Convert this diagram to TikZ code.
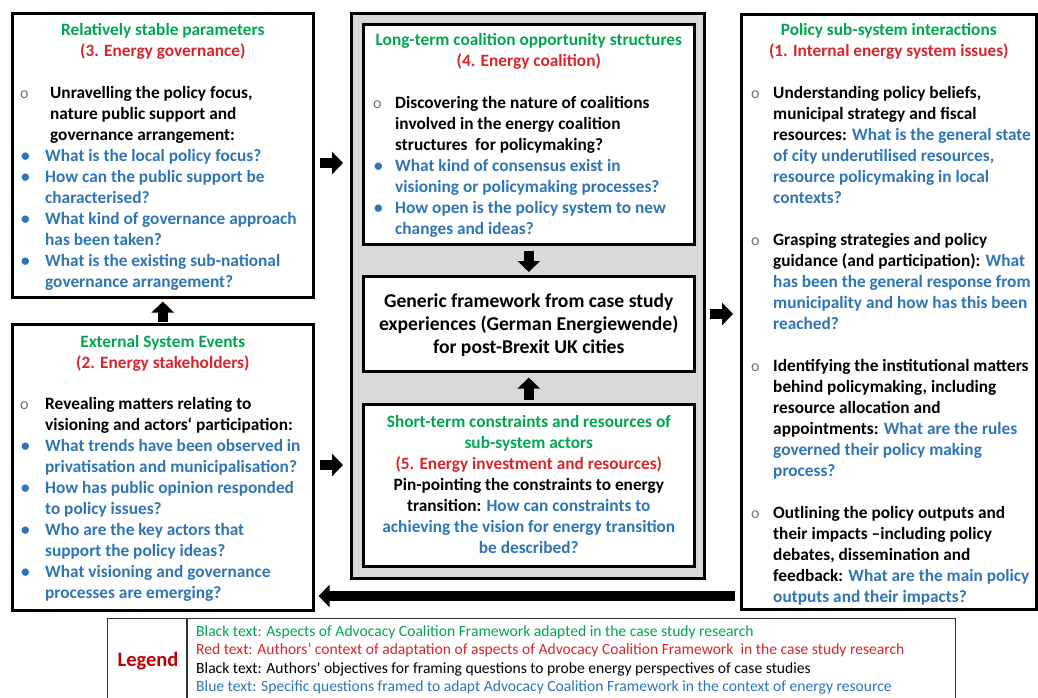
\documentclass[tikz,border=0pt]{standalone}
\usepackage{fontspec}
\setmainfont{Carlito}
\usetikzlibrary{arrows.meta,calc}
\definecolor{acfgreen}{HTML}{00A650}
\definecolor{acfred}{HTML}{D8262B}
\definecolor{acfblue}{HTML}{2E75B6}
\definecolor{legred}{HTML}{C00000}
\definecolor{panelgray}{HTML}{D9D9D9}
\newcommand\obul[1][23pt]{\makebox[#1][l]{\textcolor{black!55}{\fontsize{16}{16}\selectfont\mdseries o}}}
\newcommand\bbul[1][23pt]{\makebox[#1][l]{\hspace{1pt}\textcolor{acfblue}{•}}}
\newcommand\nobul[1][23pt]{\hspace*{#1}}
\newcommand\qblue[1]{\textcolor{acfblue}{#1}}
\begin{document}
\begin{tikzpicture}[x=1pt,y=-1pt,
  box/.style={draw=black, line width=2.6pt, fill=white, inner sep=0, anchor=north west, rectangle},
  panelbox/.style={box, fill=panelgray},
  legbox/.style={draw=black!80, line width=1.2pt, fill=white, inner sep=0, anchor=north west, rectangle},
  txt/.style={inner sep=0, font=\fontsize{17.3}{21}\selectfont\bfseries},
  bigtxt/.style={inner sep=0, font=\fontsize{19.6}{23}\selectfont\bfseries},
  legtxt/.style={inner sep=0, font=\fontsize{15.6}{18.6}\selectfont},
  fat/.style={line width=10.5pt, draw=black, -{Triangle[length=11pt,width=22pt]}}]
\useasboundingbox (0,0) rectangle (1038,697);
% boxes
\node[box, minimum width=301pt, minimum height=284pt] (lt) at (11,12) {};
\node[box, minimum width=301pt, minimum height=286pt] (lb) at (11,323) {};
\node[panelbox, minimum width=353pt, minimum height=565pt] (panel) at (350,12) {};
\node[box, minimum width=331pt, minimum height=220pt] (ct) at (362,23) {};
\node[box, minimum width=331pt, minimum height=95pt] (cm) at (362,275) {};
\node[box, minimum width=331pt, minimum height=162pt] (cb) at (362,403) {};
\node[box, minimum width=295pt, minimum height=595pt] (rb) at (740,13) {};
\node[legbox, minimum width=848pt, minimum height=90pt] (leg) at (107,618) {};
\draw[draw=black!80, line width=1.2pt] ($(leg.north west)+(80,0)$) coordinate (legdivtop) -- ($(leg.south west)+(80,0)$) coordinate (legdivbot);

% left top
\node[txt, anchor=base] (lt-t) at (lt.north |- 0,35) {\begin{tabular}[t]{@{}c@{}}\textcolor{acfgreen}{Relatively stable parameters}\\\textcolor{acfred}{(3. Energy governance)}\end{tabular}};
\node[txt, anchor=base west] (lt-l) at (20,98) {\begin{tabular}[t]{@{}l@{}}
\obul[25pt]\hspace{5pt}Unravelling the policy focus,\\
\nobul[25pt]\hspace{5pt}nature public support and\\
\nobul[25pt]\hspace{5pt}governance arrangement:\\
\bbul[25pt]\qblue{What is the local policy focus?}\\
\bbul[25pt]\qblue{How can the public support be}\\
\nobul[25pt]\qblue{characterised?}\\
\bbul[25pt]\qblue{What kind of governance approach}\\
\nobul[25pt]\qblue{has been taken?}\\
\bbul[25pt]\qblue{What is the existing sub-national}\\
\nobul[25pt]\qblue{governance arrangement?}
\end{tabular}};

% left bottom
\node[txt, anchor=base] (lb-t) at (lb.north |- 0,347) {\begin{tabular}[t]{@{}c@{}}\textcolor{acfgreen}{External System Events}\\\textcolor{acfred}{(2. Energy stakeholders)}\end{tabular}};
\node[txt, anchor=base west] (lb-l) at (20,409) {\begin{tabular}[t]{@{}l@{}}
\obul[25pt]Revealing matters relating to\\
\nobul[25pt]visioning and actors‘ participation:\\
\bbul[25pt]\qblue{What trends have been observed in}\\
\nobul[25pt]\qblue{privatisation and municipalisation?}\\
\bbul[25pt]\qblue{How has public opinion responded}\\
\nobul[25pt]\qblue{to policy issues?}\\
\bbul[25pt]\qblue{Who are the key actors that}\\
\nobul[25pt]\qblue{support the policy ideas?}\\
\bbul[25pt]\qblue{What visioning and governance}\\
\nobul[25pt]\qblue{processes are emerging?}
\end{tabular}};

% centre top
\node[txt, anchor=base] (ct-t) at (ct.north |- 0,45) {\begin{tabular}[t]{@{}c@{}}\textcolor{acfgreen}{Long-term coalition opportunity structures}\\\textcolor{acfred}{(4. Energy coalition)}\end{tabular}};
\node[txt, anchor=base west] (ct-l) at (373,108) {\begin{tabular}[t]{@{}l@{}}
\obul[22pt]Discovering the nature of coalitions\\
\nobul[22pt]involved in the energy coalition\\
\nobul[22pt]structures\ \ for policymaking?\\
\bbul[22pt]\qblue{What kind of consensus exist in}\\
\nobul[22pt]\qblue{visioning or policymaking processes?}\\
\bbul[22pt]\qblue{How open is the policy system to new}\\
\nobul[22pt]\qblue{changes and ideas?}
\end{tabular}};

% centre middle
\node[bigtxt, anchor=base] (cm-t) at (cm.north |- 0,307) {\begin{tabular}[t]{@{}c@{}}Generic framework from case study\\experiences (German Energiewende)\\for post-Brexit UK cities\end{tabular}};

% centre bottom
\node[txt, anchor=base] (cb-t) at (cb.north |- 0,427) {\begin{tabular}[t]{@{}c@{}}
\textcolor{acfgreen}{Short-term constraints and resources of}\\
\textcolor{acfgreen}{sub-system actors}\\
\textcolor{acfred}{(5. Energy investment and resources)}\\
Pin-pointing the constraints to energy\\
transition: \qblue{How can constraints to}\\
\qblue{achieving the vision for energy transition}\\
\qblue{be described?}
\end{tabular}};

% right box
\node[txt, anchor=base] (rb-t) at (rb.north |- 0,35) {\begin{tabular}[t]{@{}c@{}}\textcolor{acfgreen}{Policy sub-system interactions}\\\textcolor{acfred}{(1. Internal energy system issues)}\end{tabular}};
\node[txt, anchor=base west] (rb-l) at (751,98) {\begin{tabular}[t]{@{}l@{}}
\obul[22pt]Understanding policy beliefs,\\
\nobul[22pt]municipal strategy and fiscal\\
\nobul[22pt]resources: \qblue{What is the general state}\\
\nobul[22pt]\qblue{of city underutilised resources,}\\
\nobul[22pt]\qblue{resource policymaking in local}\\
\nobul[22pt]\qblue{contexts?}\\
\\
\obul[22pt]Grasping strategies and policy\\
\nobul[22pt]guidance (and participation): \qblue{What}\\
\nobul[22pt]\qblue{has been the general response from}\\
\nobul[22pt]\qblue{municipality and how has this been}\\
\nobul[22pt]\qblue{reached?}\\
\\
\obul[22pt]Identifying the institutional matters\\
\nobul[22pt]behind policymaking, including\\
\nobul[22pt]resource allocation and\\
\nobul[22pt]appointments: \qblue{What are the rules}\\
\nobul[22pt]\qblue{governed their policy making}\\
\nobul[22pt]\qblue{process?}\\
\\
\obul[22pt]Outlining the policy outputs and\\
\nobul[22pt]their impacts –including policy\\
\nobul[22pt]debates, dissemination and\\
\nobul[22pt]feedback: \qblue{What are the main policy}\\
\nobul[22pt]\qblue{outputs and their impacts?}
\end{tabular}};

% legend
\node[inner sep=0, font=\fontsize{20.5}{20.5}\selectfont\bfseries, text=legred] (leg-t) at (148,661) {Legend};
\node[legtxt, anchor=base west] (leg-l) at (196,636) {\begin{tabular}[t]{@{}l@{}}
\textcolor{acfgreen}{Black text: Aspects of Advocacy Coalition Framework adapted in the case study research}\\
\textcolor{acfred}{Red text: Authors’ context of adaptation of aspects of Advocacy Coalition Framework\ \ in the case study research}\\
Black text: Authors’ objectives for framing questions to probe energy perspectives of case studies\\
\textcolor{acfblue}{Blue text: Specific questions framed to adapt Advocacy Coalition Framework in the context of energy resource}
\end{tabular}};

% block arrows
\draw[fat] ($(lt.east |- 0,163)+(5,0)$) -- ($(panel.west |- 0,163)+(-7,0)$);
\draw[fat] ($(lb.east |- 0,465)+(5,0)$) -- ($(panel.west |- 0,465)+(-7,0)$);
\draw[fat] ($(panel.east |- 0,314)+(4,0)$) -- ($(rb.west |- 0,314)+(-7,0)$);
\draw[fat] ($(lb.north)+(0,-1)$) -- ($(lt.south)+(0,3)$);
\draw[fat] ($(ct.south)+(0,5)$) -- ($(cm.north)+(0,-3)$);
\draw[fat] ($(cb.north)+(0,-3)$) -- ($(cm.south)+(0,5)$);
\draw[fat] ($(rb.west |- 0,596)+(-5,0)$) -- ($(lb.east |- 0,596)+(4,0)$);
\end{tikzpicture}
\end{document}
